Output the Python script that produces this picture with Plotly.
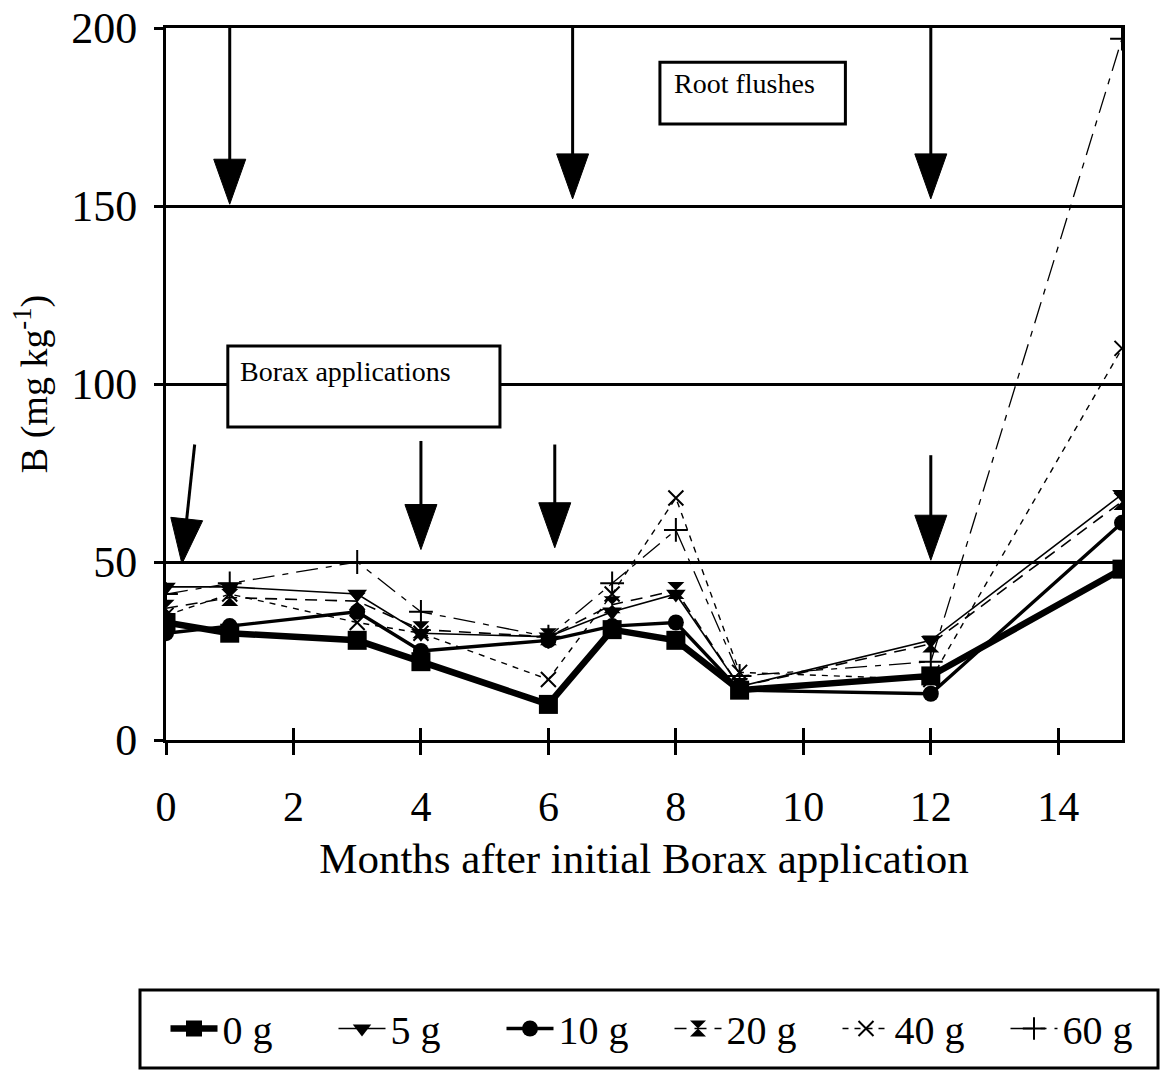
import math
import plotly.graph_objects as go

# Sampling months after the first borax application
months = [0, 1, 3, 4, 6, 7, 8, 9, 12, 15]

# Leaf boron concentration (mg/kg) for each borax rate
b_0g = [33, 30, 28, 22, 10, 31, 28, 14, 18, 48]
b_5g = [43, 43, 41, 30, 29, 36, 41, 15, 28, 69]
b_10g = [30, 32, 36, 25, 28, 32, 33, 14, 13, 61]
b_20g = [37, 40, 39, 31, 29, 38, 42, 15, 27, 67]
b_40g = [35, 41, 33, 30, 17, 41, 68, 19, 17, 110]
b_60g = [41, 44, 50, 36, 29, 44, 59, 18, 22, 197]

x_ticks = [0, 2, 4, 6, 8, 10, 12, 14]
y_ticks = [0, 50, 100, 150, 200]

# Event arrows: (tail month, tail value, tip month, tip value)
root_flush_arrows = [(1, 200, 1, 150.5), (6.38, 202, 6.38, 152), (12, 200, 12, 152)]
borax_arrows = [(0.45, 83, 0.25, 49.5), (4, 84, 4, 53.5), (6.1, 83, 6.1, 54), (12, 80, 12, 50.5)]

FONT = "Liberation Serif"

# Plot area geometry
W, H = 1160, 1072
ML, MR, MT, MB = 166, 38, 28, 332
X_RANGE = [0, 15]
Y_RANGE = [0, 200]
PLOT_W = W - ML - MR
PLOT_H = H - MT - MB
PX_PER_MONTH = PLOT_W / (X_RANGE[1] - X_RANGE[0])
PX_PER_UNIT = PLOT_H / (Y_RANGE[1] - Y_RANGE[0])

series = [
    ("0 g", b_0g, dict(width=6.5, dash="solid"), dict(symbol="square", size=19)),
    ("5 g", b_5g, dict(width=1.6, dash="solid"), dict(symbol="triangle-down", size=17)),
    ("10 g", b_10g, dict(width=3.4, dash="solid"), dict(symbol="circle", size=16)),
    ("20 g", b_20g, dict(width=1.6, dash="12px,8px"), dict(symbol="hourglass", size=17)),
    ("40 g", b_40g, dict(width=1.4, dash="6px,6px"), dict(symbol="x-thin-open", size=15, line=dict(width=2, color="black"))),
    ("60 g", b_60g, dict(width=1.3, dash="22px,8px,6px,8px"), dict(symbol="cross-thin-open", size=17, line=dict(width=2, color="black"))),
]

fig = go.Figure()
for name, vals, line, marker in series:
    fig.add_trace(go.Scatter(
        x=months, y=vals, name=name, mode="lines+markers",
        line=dict(color="black", **line),
        marker=dict(color="black", **marker),
    ))

# Empty companion axis carrying the inward half of the x tick marks
fig.add_trace(go.Scatter(x=[X_RANGE[0]], y=[None], xaxis="x2", mode="lines",
                         showlegend=False, hoverinfo="skip"))


def arrow_shapes(tail_m, tail_v, tip_m, tip_v, head_len=45, head_half=16, width=3):
    dx = (tip_m - tail_m) * PX_PER_MONTH
    dy = (tip_v - tail_v) * PX_PER_UNIT
    L = math.hypot(dx, dy)
    ux, uy = dx / L, dy / L
    px, py = -uy, ux
    b1 = (-head_len * ux + head_half * px, -head_len * uy + head_half * py)
    b2 = (-head_len * ux - head_half * px, -head_len * uy - head_half * py)
    end_m = tip_m - (head_len - 4) * ux / PX_PER_MONTH
    end_v = tip_v - (head_len - 4) * uy / PX_PER_UNIT
    shaft = dict(type="line", xref="x", yref="y", x0=tail_m, y0=tail_v, x1=end_m, y1=end_v,
                 line=dict(color="black", width=width))
    head = dict(type="path", xref="x", yref="y", xsizemode="pixel", ysizemode="pixel",
                xanchor=tip_m, yanchor=tip_v,
                path=f"M0,0 L{b1[0]:.2f},{b1[1]:.2f} L{b2[0]:.2f},{b2[1]:.2f} Z",
                fillcolor="black", line=dict(color="black", width=1))
    return [shaft, head]


shapes = []
for a in root_flush_arrows + borax_arrows:
    shapes += arrow_shapes(*a)

# Label boxes
shapes.append(dict(type="rect", xref="x", yref="y", x0=7.75, x1=10.66, y0=173, y1=190.4,
                   fillcolor="white", line=dict(color="black", width=3), layer="above"))
shapes.append(dict(type="rect", xref="x", yref="y", x0=0.97, x1=5.24, y0=87.9, y1=110.7,
                   fillcolor="white", line=dict(color="black", width=3), layer="above"))


def px_to_paper_x(px):
    return (px - ML) / PLOT_W


def px_to_paper_y(py):
    return (H - MB - py) / PLOT_H


# Frame around the legend
shapes.append(dict(type="rect", xref="paper", yref="paper",
                   x0=px_to_paper_x(140), x1=px_to_paper_x(1158),
                   y0=px_to_paper_y(1068), y1=px_to_paper_y(990),
                   fillcolor="rgba(0,0,0,0)", line=dict(color="black", width=3)))

annotations = [
    dict(x=7.94, y=184.5, xref="x", yref="y", text="Root flushes", showarrow=False,
         xanchor="left", yanchor="middle", font=dict(family=FONT, size=28, color="black")),
    dict(x=1.13, y=103.4, xref="x", yref="y", text="Borax applications", showarrow=False,
         xanchor="left", yanchor="middle", font=dict(family=FONT, size=28, color="black")),
]

fig.update_layout(
    width=W, height=H,
    margin=dict(l=ML, r=MR, t=MT, b=MB, autoexpand=False),
    paper_bgcolor="white", plot_bgcolor="white",
    font=dict(family=FONT, color="black"),
    shapes=shapes,
    annotations=annotations,
    showlegend=True,
    legend=dict(
        orientation="h", x=px_to_paper_x(165.5), xanchor="left",
        y=px_to_paper_y(996), yanchor="top",
        borderwidth=0, bgcolor="rgba(0,0,0,0)",
        font=dict(family=FONT, size=40, color="black"),
        entrywidth=106, itemwidth=47,
    ),
    xaxis=dict(
        range=X_RANGE, tickvals=x_ticks, automargin=False,
        ticks="outside", ticklen=12, tickwidth=3, tickcolor="black",
        ticklabelstandoff=16,
        showline=True, linewidth=3, linecolor="black", mirror=True,
        showgrid=False, zeroline=False,
        tickfont=dict(family=FONT, size=42, color="black"),
        title=dict(text="Months after initial Borax application", standoff=14,
                   font=dict(family=FONT, size=43, color="black")),
    ),
    xaxis2=dict(
        range=X_RANGE, tickvals=x_ticks, overlaying="x", anchor="y",
        side="bottom", ticks="inside", ticklen=12, tickwidth=3, tickcolor="black",
        showticklabels=False, showline=False, showgrid=False, zeroline=False,
    ),
    yaxis=dict(
        range=Y_RANGE, tickvals=y_ticks, automargin=False,
        ticks="outside", ticklen=9, tickwidth=3, tickcolor="black",
        ticklabelstandoff=8,
        showline=True, linewidth=3, linecolor="black", mirror=True,
        showgrid=True, gridcolor="black", gridwidth=3, zeroline=False,
        tickfont=dict(family=FONT, size=44, color="black"),
        title=dict(text="B (mg kg<sup>-1</sup>)", standoff=12,
                   font=dict(family=FONT, size=38, color="black")),
    ),
)

fig.write_html("out.html")
